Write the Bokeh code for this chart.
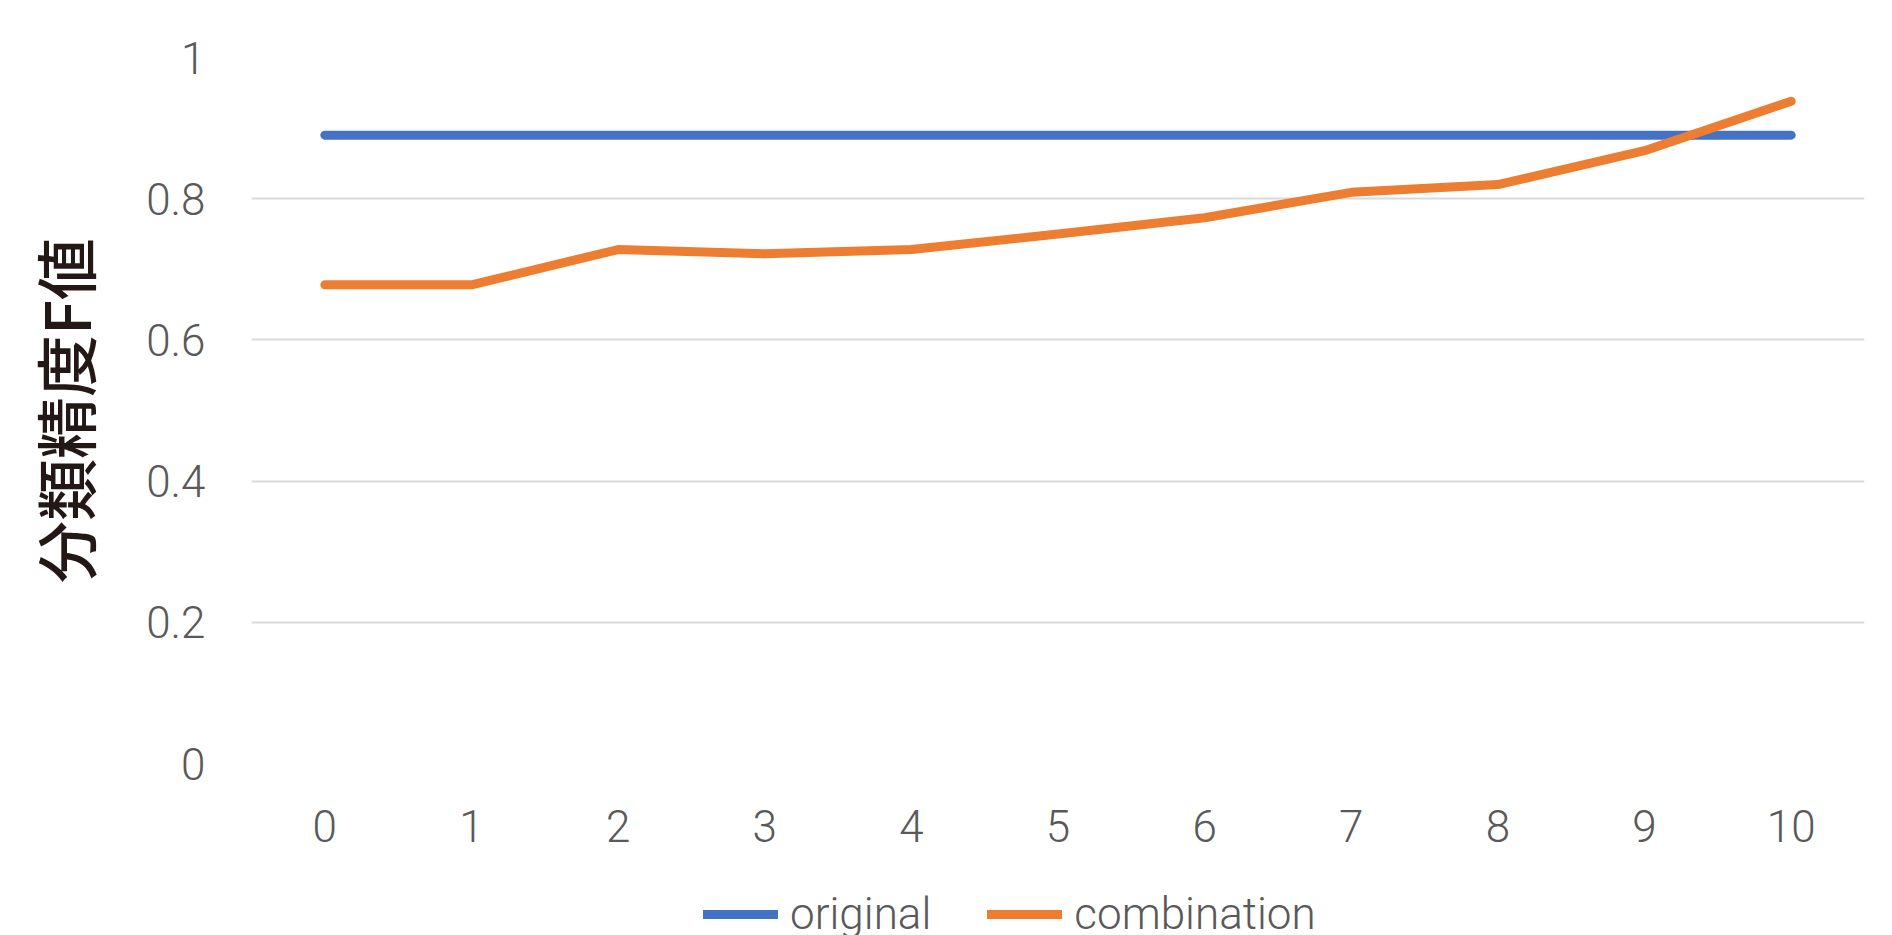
from bokeh.plotting import figure
from bokeh.layouts import column
from bokeh.models import FactorRange, Range1d, FixedTicker, Legend, LegendItem, ColumnDataSource
from bokeh.embed import file_html
from bokeh.resources import INLINE

categories = ["0", "1", "2", "3", "4", "5", "6", "7", "8", "9", "10"]
original = [0.89, 0.89, 0.89, 0.89, 0.89, 0.89, 0.89, 0.89, 0.89, 0.89, 0.89]
combination = [0.678, 0.678, 0.728, 0.722, 0.728, 0.75, 0.773, 0.809, 0.82, 0.868, 0.938]
y_ticks = [0, 0.2, 0.4, 0.6, 0.8, 1]
y_tick_labels = ["0", "0.2", "0.4", "0.6", "0.8", "1"]
y_title = "分類精度F値"
series_names = ["original", "combination"]
series_colors = ["#4472C4", "#ED7D31"]

TICK_FONT = "'Roboto Light', Roboto"
TICK_COLOR = "#595959"
LINE_W = 9

p = figure(
    width=1892, height=870,
    x_range=FactorRange(factors=categories),
    y_range=Range1d(0, 1),
    output_backend="svg", toolbar_location=None,
    min_border_left=251, min_border_right=28,
    min_border_top=57, min_border_bottom=107,
)
p.outline_line_color = None
p.background_fill_color = "white"
p.border_fill_color = "white"

src = ColumnDataSource(dict(x=categories, original=original, combination=combination))
p.line("x", "original", source=src, line_color=series_colors[0], line_width=LINE_W, line_cap="round")
p.line("x", "combination", source=src, line_color=series_colors[1], line_width=LINE_W,
       line_cap="round", line_join="round")

p.xgrid.grid_line_color = None
p.ygrid.ticker = FixedTicker(ticks=y_ticks)
p.ygrid.grid_line_color = "#d9d9d9"
p.ygrid.grid_line_width = 2

for ax in (p.xaxis[0], p.yaxis[0]):
    ax.axis_line_color = None
    ax.major_tick_line_color = None
    ax.minor_tick_line_color = None
    ax.major_label_text_font = TICK_FONT
    ax.major_label_text_font_size = "44px"
    ax.major_label_text_color = TICK_COLOR

p.xaxis.major_label_standoff = 40
p.yaxis.ticker = FixedTicker(ticks=y_ticks)
p.yaxis.major_label_overrides = {t: l for t, l in zip(y_ticks, y_tick_labels)}
p.yaxis.major_label_standoff = 40
p.yaxis.axis_label = y_title
p.yaxis.axis_label_text_font = "'Noto Sans CJK JP Medium', 'Noto Sans CJK JP'"
p.yaxis.axis_label_text_font_size = "62px"
p.yaxis.axis_label_text_font_style = "normal"
p.yaxis.axis_label_text_color = "#231815"
p.yaxis.axis_label_standoff = 34

# legend strip below the chart (its frame is aligned with the chart's frame);
# the series lines in it fall outside its y range, so only the legend shows
p2 = figure(
    width=1892, height=65,
    x_range=FactorRange(factors=categories), y_range=Range1d(-1, 0),
    output_backend="svg", toolbar_location=None,
    min_border_left=0, min_border_right=0, min_border_top=0, min_border_bottom=0,
)
p2.axis.visible = False
p2.grid.visible = False
p2.outline_line_color = None
p2.background_fill_color = "white"
p2.border_fill_color = "white"
leg_renderers = [
    p2.line("x", name, source=src, line_color=c, line_width=LINE_W, line_cap="round")
    for name, c in zip(series_names, series_colors)
]
legend = Legend(
    items=[LegendItem(label=n, renderers=[r]) for n, r in zip(series_names, leg_renderers)],
    orientation="horizontal",
    location=(452, -5),
    glyph_width=75, glyph_height=40,
    label_standoff=12, spacing=56,
    padding=0, margin=0,
    border_line_color=None, background_fill_alpha=0,
    label_text_font=TICK_FONT, label_text_font_size="44px",
    label_text_color=TICK_COLOR,
)
p2.add_layout(legend, "center")

layout = column(p, p2, spacing=0)
open("out.html", "w").write(file_html(layout, INLINE))
